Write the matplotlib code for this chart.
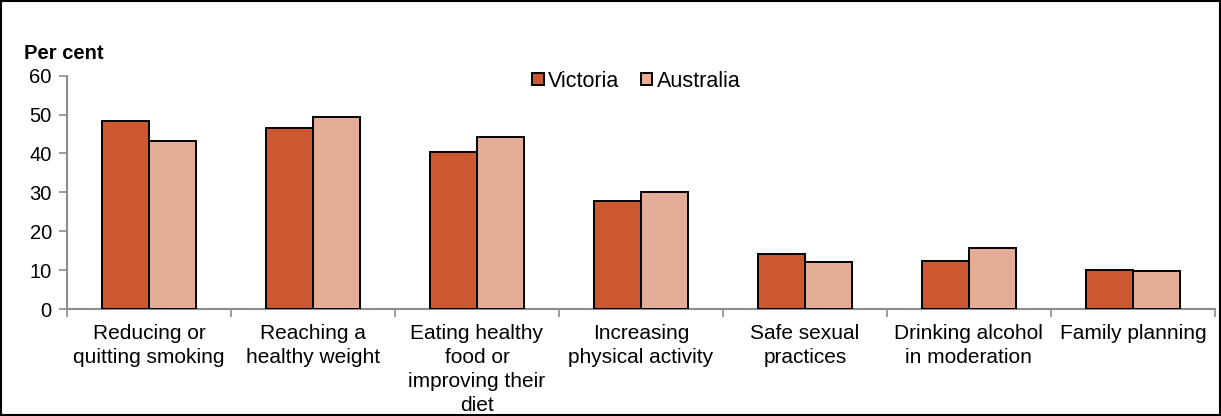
import matplotlib.pyplot as plt
import numpy as np
from matplotlib.patches import Rectangle

plt.rcParams['font.family'] = ['Liberation Sans', 'DejaVu Sans']

categories = ["Reducing or\nquitting smoking", "Reaching a\nhealthy weight",
              "Eating healthy\nfood or\nimproving their\ndiet",
              "Increasing\nphysical activity", "Safe sexual\npractices",
              "Drinking alcohol\nin moderation", "Family planning"]
victoria = [48.4, 46.6, 40.5, 27.9, 14.1, 12.4, 10.1]
australia = [43.2, 49.4, 44.3, 30.2, 12.2, 15.6, 9.9]
yticks = [0, 10, 20, 30, 40, 50, 60]

col_vic = '#CB582F'
col_aus = '#E4AD96'
grey = '#8C8C8C'

fig = plt.figure(figsize=(12.21, 4.16), dpi=100)
ax = fig.add_axes([0.0549, 0.2572, 0.9401, 0.5608])

x = np.arange(len(categories))
w = 0.287
ax.bar(x - w/2, victoria, w, color=col_vic, edgecolor='black', linewidth=1.4, label='Victoria', zorder=3)
ax.bar(x + w/2, australia, w, color=col_aus, edgecolor='black', linewidth=1.4, label='Australia', zorder=3)

ax.set_xlim(-0.5, len(categories) - 0.5)
ax.set_ylim(0, 60)
ax.set_yticks(yticks)
ax.tick_params(axis='y', labelsize=14.5, length=6, color=grey, width=1.2, pad=5)

ax.set_xticks(x)
ax.set_xticklabels(categories, fontsize=15, linespacing=1.32)
ax.tick_params(axis='x', length=0, pad=11)
ax.set_xticks(np.arange(len(categories) + 1) - 0.5, minor=True)
ax.tick_params(axis='x', which='minor', length=6, color=grey, width=1.2)

for s in ['top', 'right']:
    ax.spines[s].set_visible(False)
for s in ['left', 'bottom']:
    ax.spines[s].set_color(grey)
    ax.spines[s].set_linewidth(1.5)

fig.text(0.02, 0.872, "Per cent", fontsize=14.5, fontweight='bold', ha='left', va='center')

leg = fig.legend(loc='center', bbox_to_anchor=(0.521, 0.805), ncol=2, frameon=False,
                 fontsize=15.5, handlelength=0.55, handleheight=0.55, handletextpad=0.2,
                 columnspacing=1.0)

# black border round the whole picture
fig.patches.append(Rectangle((0.001, 0.002), 0.998, 0.996, transform=fig.transFigure,
                             fill=False, edgecolor='black', linewidth=1.5))

fig.savefig('out.png', dpi=100)
